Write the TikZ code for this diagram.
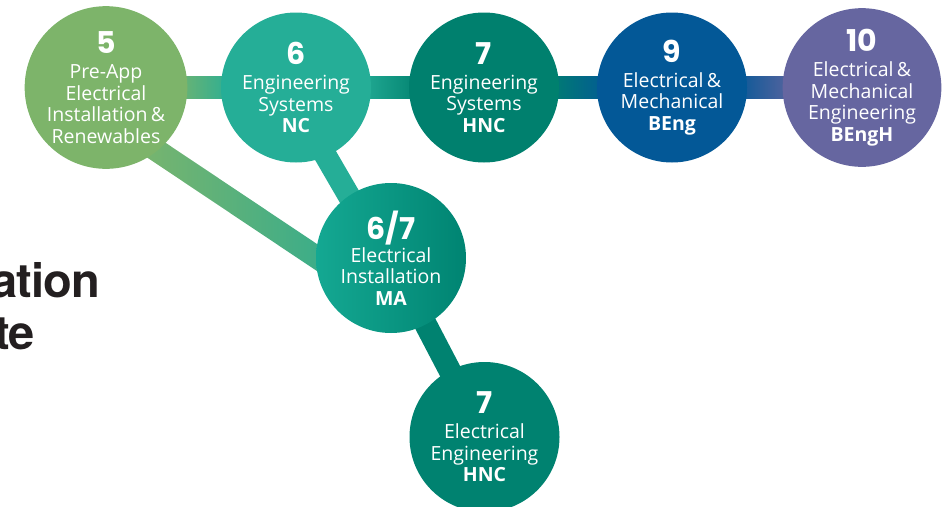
\documentclass[tikz,border=0pt]{standalone}
\usepackage{fontspec}
\setmainfont{Open Sans}
\newfontfamily\numfont{Poppins}
\newfontfamily\headfont[LetterSpace=-2]{TeX Gyre Heros}
\usetikzlibrary{calc}
\definecolor{cgreen}{HTML}{7DB46A}
\definecolor{cteal}{HTML}{25AE97}
\definecolor{cdark}{HTML}{00806E}
\definecolor{cblue}{HTML}{035897}
\definecolor{cpurple}{HTML}{6666A0}
\definecolor{cmaL}{HTML}{14A892}
\definecolor{cmaR}{HTML}{008472}
\definecolor{cee}{HTML}{008270}
\definecolor{cdiagA}{HTML}{86B668}
\definecolor{cdiagB}{HTML}{22AA94}
\definecolor{cink}{HTML}{231F20}
\newcommand{\nm}[1]{{\numfont\bfseries\fontsize{30}{30}\selectfont #1}}
\tikzset{
  circ/.style={circle, minimum size=150pt, inner sep=0pt, align=center,
    text=white, font=\fontsize{19.5}{21.5}\selectfont},
  bar/.style={line width=22.5pt},
  head/.style={inner sep=0pt, text=cink, font=\headfont\bfseries\fontsize{47}{52}\selectfont}
}
\begin{document}
\begin{tikzpicture}[x=1pt,y=-1pt]
\useasboundingbox (0,0) rectangle (952,506);
\clip (0,0) rectangle (952,506);
% positions
\coordinate (p5) at (106,87.5);
\coordinate (p6) at (296,87.5);
\coordinate (p7) at (484,87.5);
\coordinate (p9) at (672,87.5);
\coordinate (p10) at (862,87.5);
\coordinate (pma) at (391,258);
\coordinate (pee) at (484.5,437);
% connectors
\coordinate (d1a) at ([shift={(0,29)}]p5);
\coordinate (d1b) at ([shift={(0,49)}]pma);
\path[left color=cdiagA, right color=cdiagB]
  ($(d1a)!11.25pt!90:(d1b)$) -- ($(d1b)!11.25pt!-90:(d1a)$) --
  ($(d1b)!11.25pt!90:(d1a)$) -- ($(d1a)!11.25pt!-90:(d1b)$) -- cycle;
\draw[bar, color=cteal] ([shift={(-10,0)}]p6) -- ([shift={(-6,0)}]pma);
\draw[bar, color=cee] (pma) -- (pee);
\path[left color=cgreen, right color=cteal]
  ([shift={(60,-11.25)}]p5) rectangle ([shift={(-60,11.25)}]p6);
\path[left color=cteal, right color=cdark]
  ([shift={(60,-11.25)}]p6) rectangle ([shift={(-60,11.25)}]p7);
\path[left color=cdark, right color=cblue]
  ([shift={(60,-11.25)}]p7) rectangle ([shift={(-60,11.25)}]p9);
\path[left color=cblue, right color=cpurple]
  ([shift={(60,-11.25)}]p9) rectangle ([shift={(-60,11.25)}]p10);
% circles
\node[circ, fill=cgreen] (c5) at (p5) {\nm{5}\\[3.5pt]Pre-App\\Electrical\\Installation\,\&\\Renewables};
\node[circ, fill=cteal] (c6) at (p6) {\nm{6}\\[3.5pt]Engineering\\Systems\\\textbf{NC}};
\node[circ, fill=cdark] (c7) at (p7) {\nm{7}\\[3.5pt]Engineering\\Systems\\\textbf{HNC}};
\node[circ, fill=cblue] (c9) at (p9) {\nm{9}\\[3.5pt]Electrical\,\&\\Mechanical\\\textbf{BEng}};
\node[circ, fill=cpurple] (c10) at (p10) {\nm{10}\\[3.5pt]Electrical\,\&\\Mechanical\\Engineering\\\textbf{BEngH}};
\node[circ, left color=cmaL, right color=cmaR] (ma) at (pma) {\nm{6/7}\\[1.5pt]Electrical\\Installation\\\textbf{MA}};
\node[circ, fill=cee] (ee) at (pee) {\nm{7}\\[3.5pt]Electrical\\Engineering\\\textbf{HNC}};
% heading fragments
\node[head, anchor=base east] (h1) at (100,297) {ation};
\node[head, anchor=base east] (h2) at (35,349) {te};
\end{tikzpicture}
\end{document}
